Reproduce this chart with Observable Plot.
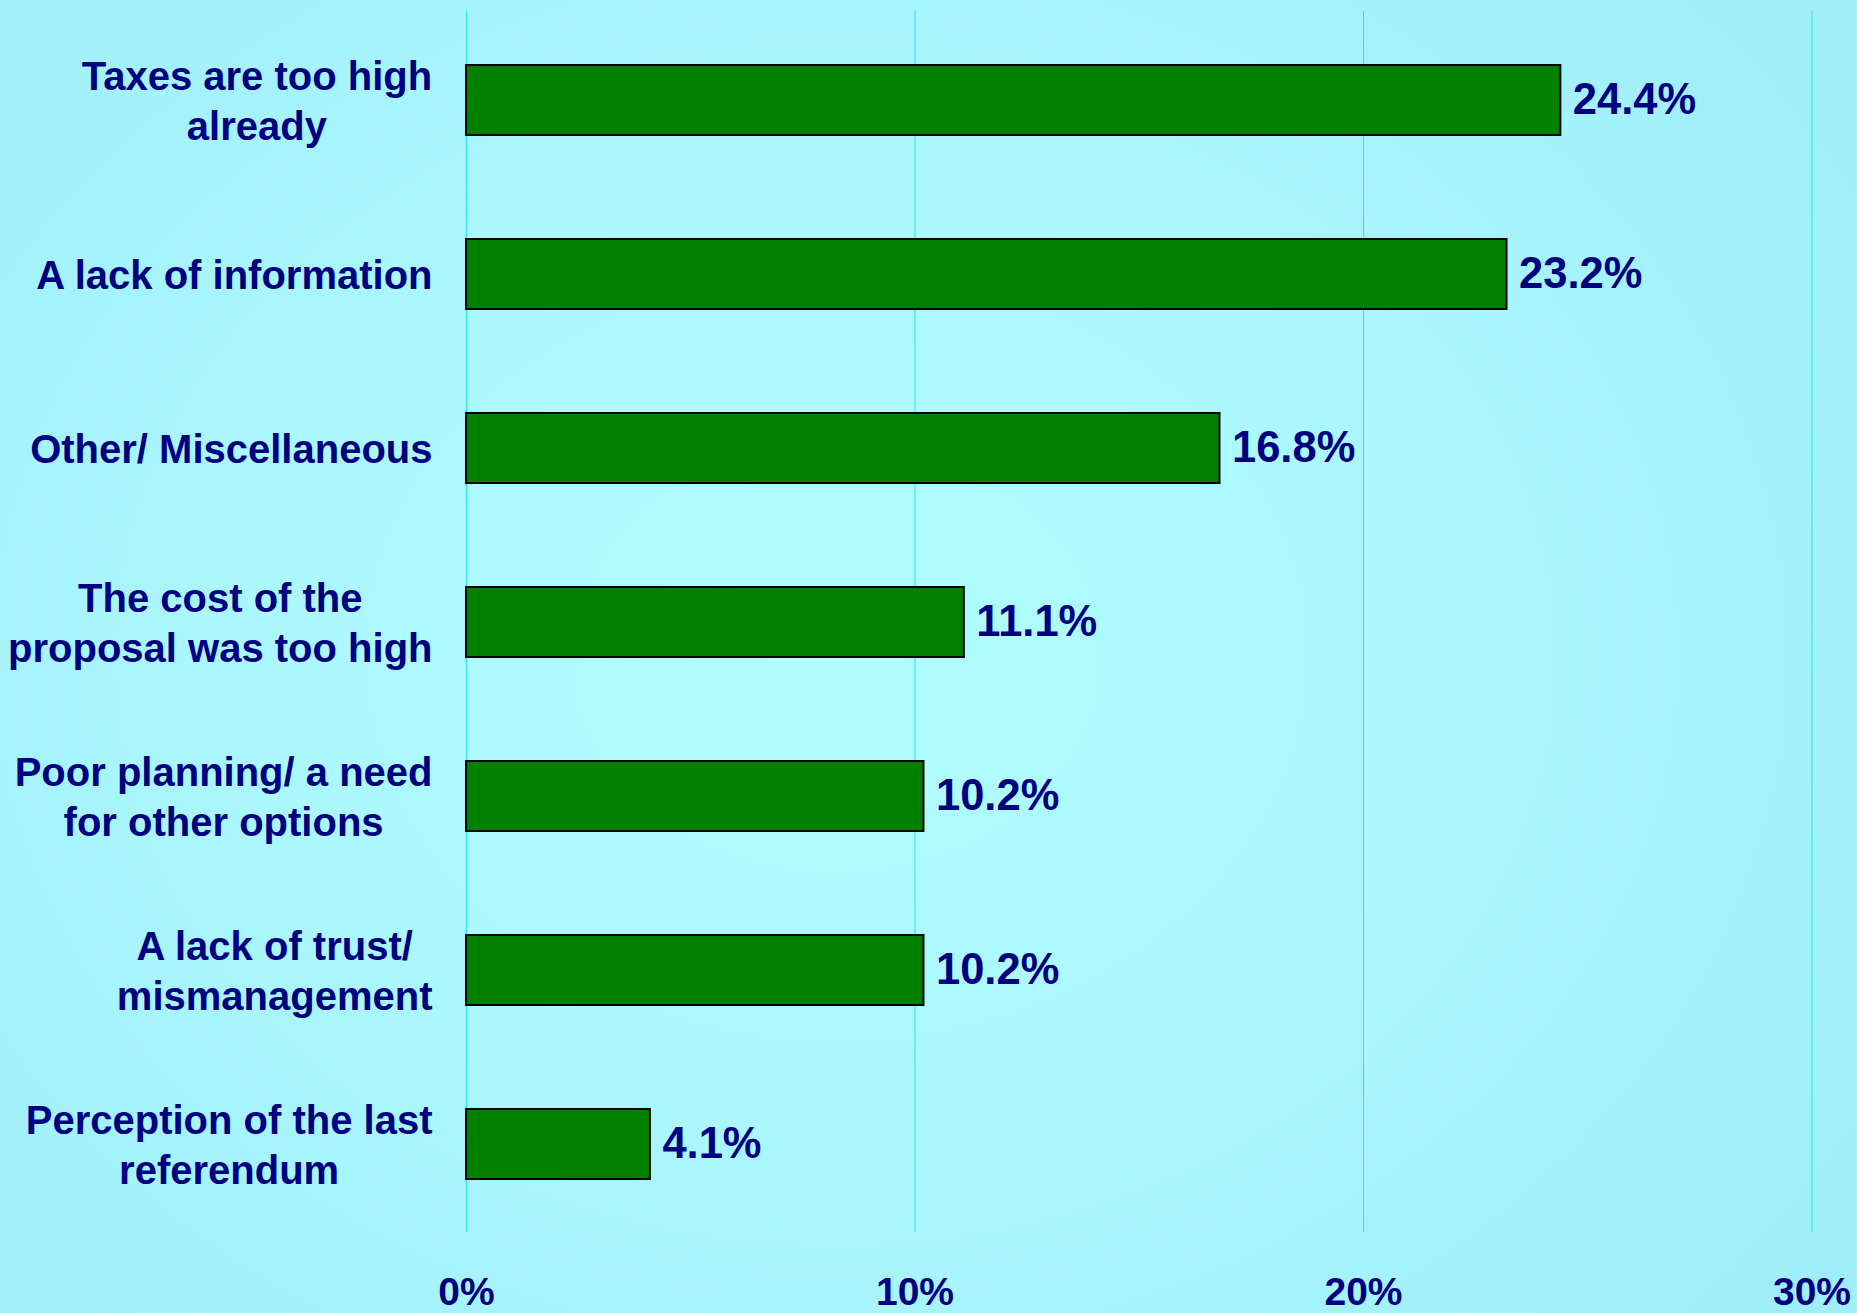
<!DOCTYPE html>
<html><head><meta charset="utf-8">
<script src="https://cdn.jsdelivr.net/npm/d3@7"></script>
<script src="https://cdn.jsdelivr.net/npm/@observablehq/plot@0.6"></script>
<style>
html,body{margin:0;padding:0;}
body{width:1857px;height:1313px;overflow:hidden;background:radial-gradient(ellipse 65% 75% at 45% 50%, #b1fdff 0%, #aaf7fd 50%, #a0eefa 100%);}
svg{display:block;}
</style></head><body><div id="chart"></div>
<script>
const categories = [
  "Taxes are too high\nalready",
  "A lack of information",
  "Other/ Miscellaneous",
  "The cost of the\nproposal was too high",
  "Poor planning/ a need\nfor other options",
  "A lack of trust/\nmismanagement",
  "Perception of the last\nreferendum"
];
const values = [24.4, 23.2, 16.8, 11.1, 10.2, 10.2, 4.1];
const valueLabels = ["24.4%", "23.2%", "16.8%", "11.1%", "10.2%", "10.2%", "4.1%"];
const xTicks = [0, 10, 20, 30];
const xTickLabels = ["0%", "10%", "20%", "30%"];

const data = categories.map((c, i) => ({category: c, value: values[i], label: valueLabels[i]}));
const font = '"Liberation Sans", Arial, Helvetica, sans-serif';
const navy = "#000080";

const chart = Plot.plot({
  width: 1857, height: 1313,
  marginLeft: 466, marginRight: 45.5, marginTop: 11, marginBottom: 81,
  style: {background: "transparent", fontFamily: font, color: navy, overflow: "visible"},
  x: {domain: [0, 30], axis: null, label: null},
  y: {domain: categories, paddingInner: 0.6, paddingOuter: 0.3, axis: null, label: null},
  marks: [
    Plot.gridX(xTicks, {stroke: "#2ee0e8", strokeOpacity: 1, strokeWidth: 1}),
    Plot.axisX(xTicks, {anchor: "bottom", label: null, tickSize: 0, tickPadding: 45, fontSize: 39, fontWeight: "bold", fill: navy,
      tickFormat: d => xTickLabels[xTicks.indexOf(d)]}),
    Plot.barX(data, {x: "value", y: "category", fill: "#008000", stroke: "#000", strokeWidth: 2}),
    Plot.text(data, {x: "value", y: "category", text: "label", textAnchor: "start", dx: 12,
      fontSize: 43.5, fontWeight: "bold", fill: navy}),
    Plot.text(data, {y: "category", text: "category", frameAnchor: "left", textAnchor: "end", dx: -34, dy: -2,
      lineHeight: 1.25, fontSize: 40, fontWeight: "bold", fill: navy})
  ]
});
document.getElementById("chart").appendChild(chart);

// center multi-line category labels within their right-aligned block
const g = [...chart.querySelectorAll('g[aria-label="text"]')].pop();
if (g) {
  const texts = [...g.querySelectorAll("text")];
  const widths = texts.map(t => t.getBBox().width);
  g.setAttribute("text-anchor", "middle");
  texts.forEach((t, i) => {
    const tr = t.getAttribute("transform") || "";
    t.setAttribute("transform", tr + ` translate(${-widths[i] / 2},0)`);
  });
}
</script>
</body></html>
